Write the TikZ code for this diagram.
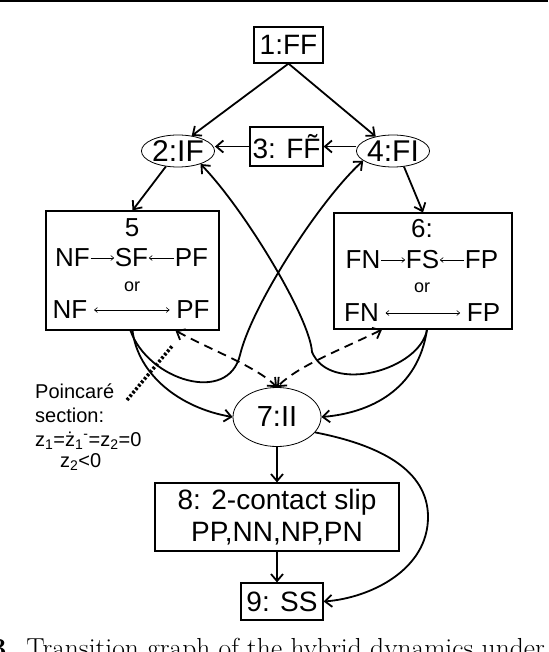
\documentclass[tikz,border=0pt]{standalone}
\usepackage{fontspec}
\newfontfamily\arial{Liberation Sans}
\usetikzlibrary{shapes.geometric,arrows.meta}
\begin{document}
\begin{tikzpicture}[x=1pt,y=-1pt,
  box/.style={draw,line width=1.2pt,inner sep=0pt,align=center,font=\arial\fontsize{28}{32}\selectfont},
  ell/.style={draw,ellipse,line width=0.8pt,inner sep=0pt,font=\arial\fontsize{30}{32}\selectfont},
  lbl/.style={inner sep=0.5pt,font=\arial\fontsize{26}{28}\selectfont},
  small/.style={inner sep=0pt,font=\arial\fontsize{18}{20}\selectfont},
  ptxt/.style={inner sep=0pt,anchor=base west,font=\arial\fontsize{20}{23}\selectfont},
  conn/.style={line width=1.8pt,-{Straight Barb[length=7pt,width=12pt]}},
  dconn/.style={line width=1.8pt,dash pattern=on 9pt off 6pt,{Straight Barb[length=7pt,width=12pt]}-{Straight Barb[length=7pt,width=12pt]}},
  tinyarr/.style={line width=0.6pt,-{Straight Barb[length=3pt,width=5pt]}},
  tinydbl/.style={line width=0.6pt,{Straight Barb[length=3pt,width=5pt]}-{Straight Barb[length=3pt,width=5pt]}},
  poinc/.style={line width=3.5pt,dash pattern=on 2.5pt off 2pt},
]
\useasboundingbox (0,0) rectangle (548,652);
\fill (0,0) rectangle (548,2);

% main nodes
\node[box,minimum width=69pt,minimum height=36pt] (n1) at (288.5,45) {1:FF};
\node[ell,minimum width=61pt,minimum height=32pt] (n2) at (178,151) {2:IF};
\node[box,minimum width=73pt,minimum height=39pt] (n3) at (286.5,146.5) {3: F\~{F}};
\node[ell,minimum width=67pt,minimum height=32pt] (n4) at (393,151) {4:FI};
\node[box,minimum width=173pt,minimum height=119pt] (n5) at (132.5,270.5) {};
\node[box,minimum width=178pt,minimum height=116pt] (n6) at (423,271) {};
\node[ell,minimum width=88pt,minimum height=59pt,font=\arial\fontsize{29}{32}\selectfont] (n7) at (277,417) {7:II};
\node[box,minimum width=244pt,minimum height=68pt] (n8) at (277,517) {8: 2-contact slip\\PP,NN,NP,PN};
\node[box,minimum width=82pt,minimum height=37pt] (n9) at (282,601.5) {9: SS};

% box 5 content
\node[lbl] (t5) at (132,228) {5};
\node[lbl] (nf1) at (72.5,258) {NF};
\node[lbl] (sf1) at (131.5,258) {SF};
\node[lbl] (pf1) at (191.5,258) {PF};
\node[small] (or5) at (132,287) {or};
\node[lbl] (nf2) at (70,310) {NF};
\node[lbl] (pf2) at (193,310) {PF};
\draw[tinyarr] (nf1) -- (sf1);
\draw[tinyarr] (pf1) -- (sf1);
\draw[tinydbl,shorten <=6pt,shorten >=6pt] (nf2) -- (pf2);

% box 6 content
\node[lbl] (t6) at (422,229) {6:};
\node[lbl] (fn1) at (363,260) {FN};
\node[lbl] (fs1) at (422.5,260) {FS};
\node[lbl] (fp1) at (481.5,260) {FP};
\node[small] (or6) at (422,288) {or};
\node[lbl] (fn2) at (361.5,313) {FN};
\node[lbl] (fp2) at (483.5,313) {FP};
\draw[tinyarr] (fn1) -- (fs1);
\draw[tinyarr] (fp1) -- (fs1);
\draw[tinydbl,shorten <=6pt,shorten >=6pt] (fn2) -- (fp2);

% straight connectors
\draw[conn] (n1.south) -- (n2.48);
\draw[conn] (n1.south) -- (n4.140);
\draw[conn] (n4.west |- n3) -- (n3.east);
\draw[conn] (n3.west) -- (n2.east |- n3);
\draw[conn] (n2.232) -- (n5.north);
\draw[conn] (n4.-55) -- (n6.north);
\draw[conn] (n7.south) -- (n8.north);
\draw[conn] (n8.south) -- (n8.south |- n9.north);

% curved connectors
\draw[conn] ([xshift=-2pt]n5.south) .. controls (148,380) and (228,405) .. (240,355)
   .. controls (252,305) and (320,200) .. (n4.198);
\draw[conn] ([xshift=4pt]n6.south) .. controls (420,370) and (330,395) .. (312,352)
   .. controls (310,318) and (245,210) .. (n2.330);
\draw[conn] (n5.south) .. controls (138,375) and (180,408) .. (n7.west);
\draw[conn] ([xshift=4pt]n6.south) .. controls (418,390) and (370,413) .. (n7.east);
\draw[conn] (n7.-22) .. controls (380,445) and (428,470) .. (428,517)
   .. controls (428,570) and (370,598) .. (n9.east);

% dashed connectors
\draw[dconn] ([xshift=43pt]n5.south) .. controls (215,352) and (255,366) .. (n7.north);
\draw[dconn] ([xshift=-41pt]n6.south) .. controls (340,350) and (298,366) .. (n7.north);

% Poincare section
\coordinate (pa) at (127,400);
\coordinate (pb) at (173,345);
\draw[poinc] (pa) -- (pb);
\node[ptxt] (p1) at (35,398) {Poincaré};
\node[ptxt] (p2) at (35,422) {section:};
\node[ptxt] (p3) at (35,446) {z\textsubscript{1}=\.{z}\textsubscript{1}\textsuperscript{-}=z\textsubscript{2}=0};
\node[ptxt] (p4) at (60,467) {z\textsubscript{2}<0};

% caption (cut by page edge)
\node[anchor=base west,inner sep=0pt,font=\fontsize{27.5}{30}\selectfont] (cap) at (-9,657) {\textbf{3.} Transition graph of the hybrid dynamics under};
\end{tikzpicture}
\end{document}
